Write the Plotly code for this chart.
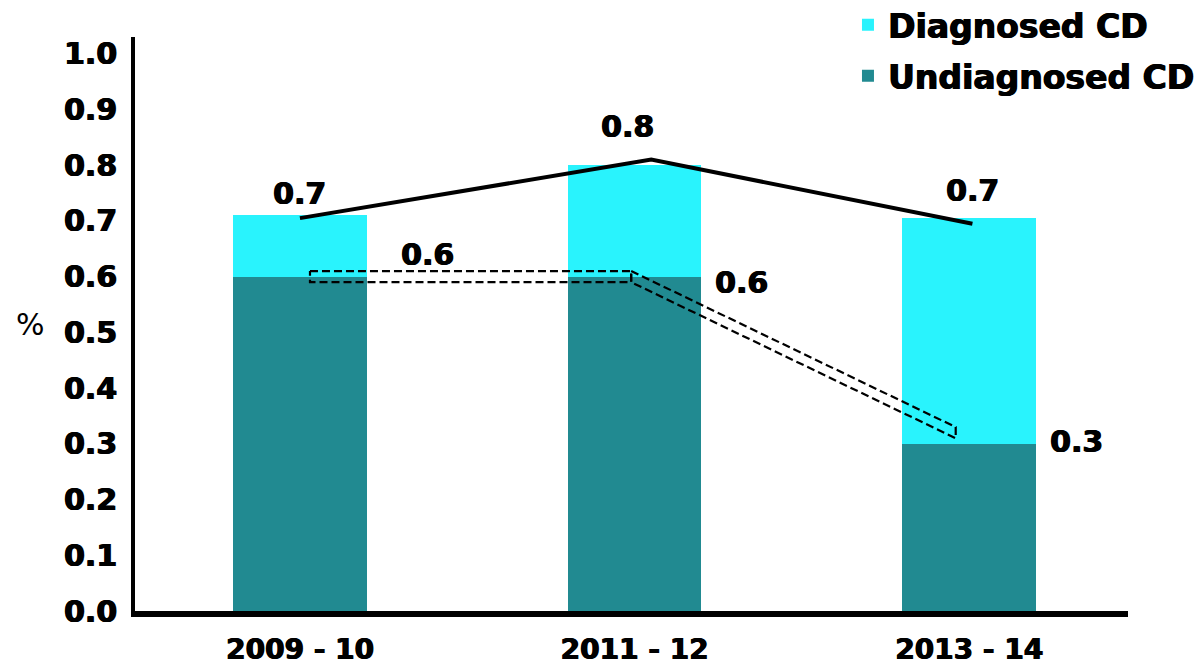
import plotly.graph_objects as go

categories = ["2009 - 10", "2011 - 12", "2013 - 14"]
undiagnosed = [0.6, 0.6, 0.3]
diagnosed = [0.11, 0.2, 0.405]
total_line = [0.705, 0.81, 0.695]
total_labels = ["0.7", "0.8", "0.7"]
undiag_labels = ["0.6", "0.6", "0.3"]
y_ticks = [0.0, 0.1, 0.2, 0.3, 0.4, 0.5, 0.6, 0.7, 0.8, 0.9, 1.0]

# style offsets (category units / value units)
line_dx = [0.0, 0.05, 0.01]
dash_dx = [0.03, -0.01, -0.04]
dash_dy = [0.0, 0.0, 0.02]
dash_half = 0.01
tot_lab_dy = [0.045, 0.06, 0.06]
tot_lab_dx = [0.0, -0.07, 0.0]
und_lab_dx = [0.38, 0.32, 0.32]
und_lab_dy = [0.04, -0.01, 0.005]

CYAN = "#29F3FD"
TEAL = "#218A91"
FONT = "DejaVu Sans"
SH = "0.8px 0 0 #000, -0.4px 0 0 #000"

def bold(size):
    return dict(family=FONT, size=size, color="black", weight="bold", shadow=SH)

xs = list(range(len(categories)))

fig = go.Figure()
fig.add_trace(go.Bar(x=xs, y=undiagnosed, name="Undiagnosed CD", marker_color=TEAL,
                     marker_line_width=0, width=0.4, legendgroup="u", legendrank=2))
fig.add_trace(go.Bar(x=xs, y=diagnosed, name="Diagnosed CD", marker_color=CYAN,
                     marker_line_width=0, width=0.4, legendgroup="d", legendrank=1))

# total line
fig.add_trace(go.Scatter(x=[x + d for x, d in zip(xs, line_dx)], y=total_line,
                         mode="lines", line=dict(color="black", width=4),
                         showlegend=False, hoverinfo="skip"))

# dashed double outline for undiagnosed trend
px = [x + d for x, d in zip(xs, dash_dx)]
py = [v + d for v, d in zip(undiagnosed, dash_dy)]
for i in range(len(px) - 1):
    sx = [px[i], px[i + 1], px[i + 1], px[i], px[i]]
    sy = [py[i] + dash_half, py[i + 1] + dash_half, py[i + 1] - dash_half,
          py[i] - dash_half, py[i] + dash_half]
    fig.add_trace(go.Scatter(x=sx, y=sy, mode="lines",
                             line=dict(color="black", width=2.2, dash="8px,4px"),
                             showlegend=False, hoverinfo="skip"))

for i in xs:
    fig.add_annotation(x=i + line_dx[i] + tot_lab_dx[i], y=total_line[i] + tot_lab_dy[i],
                       text=total_labels[i], showarrow=False, font=bold(30))
    fig.add_annotation(x=i + und_lab_dx[i], y=undiagnosed[i] + und_lab_dy[i],
                       text=undiag_labels[i], showarrow=False, font=bold(30))

fig.add_annotation(xref="paper", yref="paper", x=-0.105, y=0.5, xanchor="center",
                   text="%", showarrow=False,
                   font=dict(family=FONT, size=30, color="black"))

fig.update_layout(
    width=1204, height=667,
    margin=dict(l=127, r=84, t=29, b=64, autoexpand=False),
    plot_bgcolor="white", paper_bgcolor="white",
    barmode="stack",
    showlegend=True,
    legend=dict(x=0.718, y=1.07, xanchor="left", yanchor="top",
                traceorder="grouped", tracegroupgap=5,
                font=bold(33), bgcolor="rgba(0,0,0,0)"),
    xaxis=dict(range=[-0.493, 2.475], tickvals=xs, ticktext=categories,
               showgrid=False, zeroline=False, showline=True, linecolor="black",
               linewidth=6, ticks="", ticklabelstandoff=8, automargin=False,
               tickfont=bold(28)),
    yaxis=dict(range=[0, 1.03], tickvals=y_ticks, ticktext=[f"{v:.1f}" for v in y_ticks],
               showgrid=False, zeroline=False, showline=True, linecolor="black",
               linewidth=4, ticks="", ticklabelstandoff=8, automargin=False,
               tickfont=bold(30)),
)

fig.write_html("out.html")
